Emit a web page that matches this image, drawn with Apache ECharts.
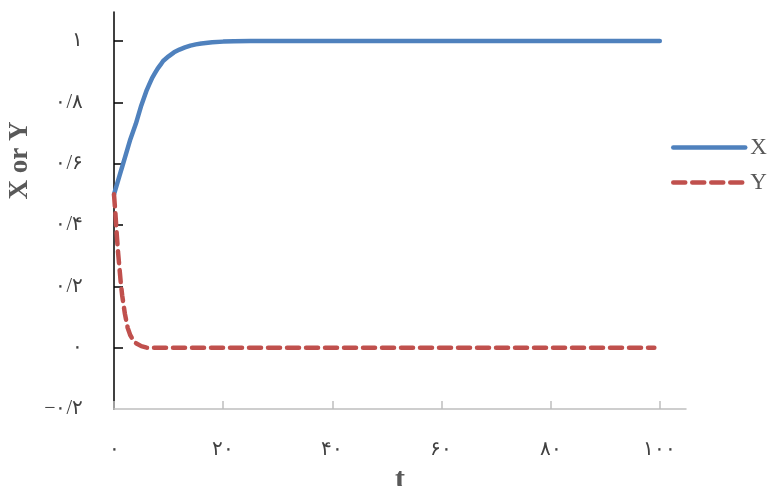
<!DOCTYPE html>
<html><head><meta charset="utf-8">
<script src="https://cdn.jsdelivr.net/npm/echarts@6/dist/echarts.min.js"></script>
<style>html,body{margin:0;padding:0;background:#fff}#c{width:769px;height:486px}</style>
</head><body><div id="c"></div>
<script>
const xTimes = [0,0.5,1,1.5,2,2.5,3,3.5,4,4.5,5,5.5,6,6.5,7,7.5,8,8.5,9,10,11,12,13,14,15,16,18,20,22,25,30,40,50,60,70,80,90,100];
const xValues = [0.50,0.53,0.56,0.59,0.62,0.65,0.68,0.705,0.73,0.76,0.79,0.815,0.84,0.86,0.88,0.895,0.91,0.922,0.935,0.95,0.963,0.972,0.979,0.985,0.989,0.992,0.996,0.998,0.999,1,1,1,1,1,1,1,1,1];
const yTimes = [0,0.25,0.5,0.75,1,1.25,1.5,1.75,2,2.5,3,3.5,4,5,6,10,20,30,40,50,60,70,80,90,99];
const yValues = [0.5,0.44,0.37,0.31,0.26,0.21,0.17,0.14,0.11,0.065,0.04,0.025,0.015,0.005,0,0,0,0,0,0,0,0,0,0,0];
const xTickValues = [0,20,40,60,80,100];
const yTickValues = [-0.2,0,0.2,0.4,0.6,0.8,1];
const seriesNames = ['X','Y'];
const xAxisTitle = 't';
const yAxisTitle = 'X or Y';

const fa = '۰۱۲۳۴۵۶۷۸۹';
function toFa(v){
  const r = Math.round(v*10)/10;
  let s = String(Math.abs(r)).replace('.', '/');
  s = s.replace(/[0-9]/g, d => fa[+d]);
  return (r < 0 ? '−' : '') + s;
}
const serif = '"Liberation Serif","DejaVu Serif",serif';
const chart = echarts.init(document.getElementById('c'));
chart.setOption({
  animation:false,
  grid:{left:114,right:83,top:12,bottom:77,containLabel:false,outerBoundsMode:'none'},
  legend:{
    orient:'vertical', left:671, top:136, padding:0, itemWidth:72, itemHeight:14, itemGap:12,
    itemStyle:{opacity:0},
    lineStyle:{width:4.5},
    textStyle:{fontFamily:serif,fontSize:23,color:'#595959'},
    data:seriesNames
  },
  xAxis:{
    type:'value', min:0, max:104.8,
    name:xAxisTitle, nameLocation:'middle', nameGap:33,
    nameTextStyle:{fontFamily:serif,fontSize:30,fontWeight:'bold',color:'#595959'},
    axisLine:{show:true,onZero:false,lineStyle:{color:'#BFBFBF',width:1.5}},
    axisTick:{show:true,inside:true,length:8,lineStyle:{color:'#BFBFBF',width:1.5},customValues:xTickValues},
    axisLabel:{margin:31,fontFamily:serif,fontSize:20,color:'#404040',customValues:xTickValues,formatter:v=>toFa(v)},
    splitLine:{show:false}
  },
  yAxis:{
    type:'value', min:-0.2, max:1.0946,
    name:yAxisTitle, nameLocation:'middle', nameGap:74, nameRotate:90,
    nameTextStyle:{fontFamily:serif,fontSize:27,fontWeight:'bold',color:'#595959',padding:[0,0,0,100]},
    axisLine:{show:true,onZero:false,lineStyle:{color:'#000',width:1.5}},
    axisTick:{show:true,inside:true,length:9,lineStyle:{color:'#000',width:1.5},customValues:yTickValues.filter(v=>v>-0.2)},
    axisLabel:{margin:31,fontFamily:serif,fontSize:20,color:'#404040',customValues:yTickValues,formatter:v=>toFa(v)},
    splitLine:{show:false}
  },
  series:[
    {name:seriesNames[0],type:'line',symbol:'none',smooth:false,
     lineStyle:{color:'#4F81BD',width:4.5,cap:'round',join:'round'},itemStyle:{color:'#4F81BD'},
     data:xTimes.map((t,i)=>[t,xValues[i]])},
    {name:seriesNames[1],type:'line',symbol:'none',smooth:false,
     lineStyle:{color:'#C0504D',width:4.5,type:[12,7],cap:'round',join:'round'},itemStyle:{color:'#C0504D'},
     data:yTimes.map((t,i)=>[t,yValues[i]])}
  ]
});
</script></body></html>
